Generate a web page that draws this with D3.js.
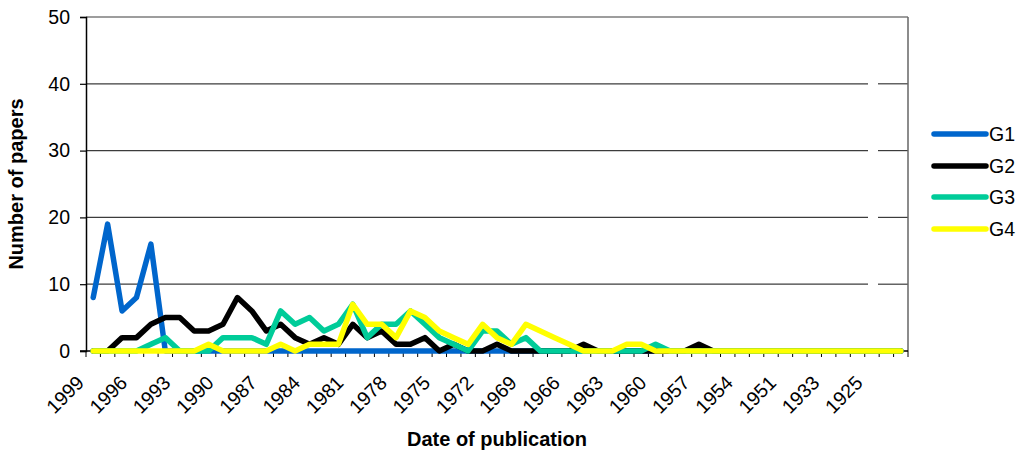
<!DOCTYPE html>
<html>
<head>
<meta charset="utf-8">
<script src="https://cdn.jsdelivr.net/npm/d3@7"></script>
<style>
  html, body { margin: 0; padding: 0; background: #ffffff; }
  svg { display: block; }
  text { font-family: "Liberation Sans", Arial, sans-serif; fill: #000; }
</style>
</head>
<body>
<svg id="chart" width="1021" height="455"></svg>
<script>
// ---- data ----
const categories = ["1999","1998","1997","1996","1995","1994","1993","1992","1991","1990",
  "1989","1988","1987","1986","1985","1984","1983","1982","1981","1980",
  "1979","1978","1977","1976","1975","1974","1973","1972","1971","1970",
  "1969","1968","1967","1966","1965","1964","1963","1962","1961","1960",
  "1959","1958","1957","1956","1955","1954","1953","1952","1951","1950",
  "1948","1933","1931","1928","1925","1922","1915"];
const labelEvery = 3;
const g1 = [8,19,6,8,16,0,0,0,0,0, 0,0,0,0,0,0,0,0,0,0, 0,0,0,0,0,0,0,0,0,0, 0,0,0,0,0,0,0,0,0,0, 0,0,0,0,0,0,0,0,0,0, 0,0,0,0,0,0,0];
const g2 = [0,0,2,2,4,5,5,3,3,4, 8,6,3,4,2,1,2,1,4,2, 3,1,1,2,0,1,0,0,1,0, 0,0,0,0,1,0,0,0,0,0, 0,0,1,0,0,0,0,0,0,0, 0,0,0,0,0,0,0];
const g3 = [0,0,0,0,1,2,0,0,0,2, 2,2,1,6,4,5,3,4,7,2, 4,4,6,4,2,1,0,3,3,1, 2,0,0,0,0,0,0,0,0,1, 0,0,0,0,0,0,0,0,0,0, 0,0,0,0,0,0,0];
const g4 = [0,0,0,0,0,0,0,0,1,0, 0,0,0,1,0,1,1,1,7,4, 4,2,6,5,3,2,1,4,2,1, 4,3,2,1,0,0,0,1,1,0, 0,0,0,0,0,0,0,0,0,0, 0,0,0,0,0,0,0];
const seriesNames = ["G1","G2","G3","G4"];
const seriesColors = ["#0066CC","#000000","#00CC99","#FFFF00"];
const yTicks = [0,10,20,30,40,50];
const yTitle = "Number of papers";
const xTitle = "Date of publication";

const series = [g1,g2,g3,g4];

// ---- layout ----
const L = 86, R = 908, T = 17, B = 351;
const svg = d3.select("#chart");

const x = d3.scaleBand().domain(d3.range(categories.length)).range([L, R]).padding(0);
const y = d3.scaleLinear().domain([0, 50]).range([B, T]);
const bw = x.bandwidth();
const cx = i => x(i) + bw / 2;

// gridlines (with small gap near the right like the reference)
const gridColor = "#3c3c3c";
yTicks.filter(v => v > 0 && v < 50).forEach(v => {
  svg.append("line").attr("x1", L).attr("x2", 868).attr("y1", y(v)).attr("y2", y(v))
    .attr("stroke", gridColor).attr("stroke-width", 1.2);
  svg.append("line").attr("x1", 878).attr("x2", R).attr("y1", y(v)).attr("y2", y(v))
    .attr("stroke", gridColor).attr("stroke-width", 1.2);
});
// top and right border
svg.append("line").attr("x1", L).attr("x2", R).attr("y1", y(50)).attr("y2", y(50))
  .attr("stroke", gridColor).attr("stroke-width", 1.2);
svg.append("line").attr("x1", R).attr("x2", R).attr("y1", T).attr("y2", B)
  .attr("stroke", "#666").attr("stroke-width", 1.5);

// y axis
const yAxis = d3.axisLeft(y).tickValues(yTicks).tickSize(6).tickPadding(10).tickFormat(d3.format("d"));
const yg = svg.append("g").attr("transform", `translate(${L},0)`).call(yAxis);
yg.select(".domain").attr("stroke", "#000").attr("stroke-width", 1.5);
yg.selectAll(".tick line").attr("stroke", "#000").attr("stroke-width", 1.2);
yg.selectAll(".tick text").style("font-size", "19.5px").style("font-family", "Liberation Sans, Arial, sans-serif").attr("fill", "#000");

// x axis line
svg.append("line").attr("x1", L - 6).attr("x2", R).attr("y1", B).attr("y2", B)
  .attr("stroke", "#000").attr("stroke-width", 1.5);
// x tick marks at band boundaries
const bounds = d3.range(categories.length + 1);
svg.append("g").selectAll("line").data(bounds).join("line")
  .attr("x1", i => (i < categories.length ? x(i) : x(categories.length - 1) + bw))
  .attr("x2", i => (i < categories.length ? x(i) : x(categories.length - 1) + bw))
  .attr("y1", B).attr("y2", B + 6)
  .attr("stroke", "#000").attr("stroke-width", 1);
// x tick labels
svg.append("g").selectAll("text")
  .data(d3.range(categories.length).filter(i => i % labelEvery === 0))
  .join("text")
  .attr("transform", i => `translate(${cx(i) - 8},${B + 33}) rotate(-45)`)
  .attr("text-anchor", "end")
  .style("font-size", "19.5px")
  .text(i => categories[i]);

// lines
const line = d3.line().x((d, i) => cx(i)).y(d => y(d)).curve(d3.curveLinear);
series.forEach((s, k) => {
  svg.append("path").datum(s)
    .attr("d", line)
    .attr("fill", "none")
    .attr("stroke", seriesColors[k])
    .attr("stroke-width", 5.5)
    .attr("stroke-linejoin", "round")
    .attr("stroke-linecap", "round");
});

// axis titles
svg.append("text")
  .attr("transform", `translate(23,${(T + B) / 2}) rotate(-90)`)
  .attr("text-anchor", "middle")
  .style("font-size", "20px").style("font-weight", "bold")
  .text(yTitle);
svg.append("text")
  .attr("x", (L + R) / 2).attr("y", 446)
  .attr("text-anchor", "middle")
  .style("font-size", "20px").style("font-weight", "bold")
  .text(xTitle);

// legend
const legendY = [134, 166, 197, 229];
const lg = svg.append("g");
seriesNames.forEach((n, k) => {
  lg.append("line").attr("x1", 934).attr("x2", 986).attr("y1", legendY[k]).attr("y2", legendY[k])
    .attr("stroke", seriesColors[k]).attr("stroke-width", 5.5).attr("stroke-linecap", "round");
  lg.append("text").attr("x", 989).attr("y", legendY[k] + 7)
    .style("font-size", "19.5px").text(n);
});
</script>
</body>
</html>
